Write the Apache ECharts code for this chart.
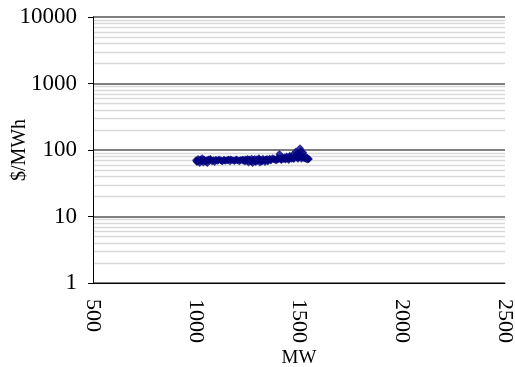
<!DOCTYPE html>
<html><head><meta charset="utf-8">
<script src="https://cdn.jsdelivr.net/npm/echarts@6/dist/echarts.min.js"></script>
<style>html,body{margin:0;padding:0;background:#fff}#c{width:515px;height:367px}</style>
</head><body><div id="c"></div>
<script>
const xTicks = [500, 1000, 1500, 2000, 2500];
const yTicks = [1, 10, 100, 1000, 10000];
const minorLines = [2,3,4,5,6,7,8,9,20,30,40,50,60,70,80,90,200,300,400,500,600,700,800,900,2000,3000,4000,5000,6000,7000,8000,9000];
const mw = [1000,1005,1010,1012,1018,1022,1025,1030,1035,1040,1045,1050,1055,1060,1065,1070,1078,1085,1090,1098,1105,1112,1120,1128,1135,1142,1150,1158,1165,1172,1180,1188,1195,1202,1210,1218,1225,1232,1240,1245,1250,1255,1260,1265,1270,1275,1280,1285,1290,1295,1300,1305,1310,1315,1320,1325,1330,1335,1340,1345,1350,1358,1365,1372,1380,1388,1395,1400,1405,1410,1415,1420,1425,1430,1435,1440,1445,1450,1455,1460,1465,1470,1475,1480,1485,1490,1495,1500,1505,1510,1515,1520,1525,1530,1535,1540,1545,
  1003,1015,1028,1038,1048,1058,1068,1082,1094,1108,1124,1138,1155,1168,1185,1198,1214,1228,1238,1248,1258,1268,1278,1288,1298,1308,1318,1328,1338,1348,1355,1362,1378,1392,1402,1412,1422,1432,1442,1452,1462,1472,1482,1492,1502,1512,1522,1532,1542,1548];
const price = [70,66,73,68,64,72,69,75,65,71,67,70,64,72,69,73,68,70,66,71,69,72,70,68,71,69,70,72,68,71,70,69,72,70,68,71,70,69,72,70,73,65,71,68,74,64,70,73,66,72,69,75,65,71,68,74,70,66,72,73,69,74,71,75,72,70,76,73,87,74,71,77,73,78,72,80,75,71,82,76,74,85,73,79,95,88,74,83,106,96,78,92,75,81,73,76,74,
  68,71,69,72,67,70,72,69,71,70,69,71,70,72,69,71,70,72,67,69,72,67,71,68,70,72,67,70,71,68,72,70,73,71,74,72,75,73,76,74,77,75,80,76,78,74,79,75,72,73];
const pts = mw.map((x,i)=>[x, price[i]]);
const chart = echarts.init(document.getElementById('c'));
const font = "'Liberation Serif', 'Times New Roman', serif";
chart.setOption({
  animation:false,
  grid:{left:93,right:10,top:17,bottom:84,containLabel:false,outerBoundsMode:'none'},
  xAxis:{type:'value',min:xTicks[0],max:xTicks[xTicks.length-1],interval:500,z:10,
    axisLine:{show:true,onZero:false,lineStyle:{color:'#000',width:1}},
    axisTick:{show:false},splitLine:{show:false},
    axisLabel:{rotate:-90,margin:16,fontFamily:font,fontSize:22,color:'#000',formatter:v=>String(v)},
    name:'MW',nameLocation:'middle',nameGap:66,nameMoveOverlap:false,nameTextStyle:{fontFamily:font,fontSize:19,color:'#000'}},
  yAxis:{type:'log',logBase:10,min:yTicks[0],max:yTicks[yTicks.length-1],z:10,
    axisLine:{show:true,lineStyle:{color:'#000',width:1}},
    axisTick:{show:true,length:5,lineStyle:{color:'#000'}},
    splitLine:{show:true,lineStyle:{color:'#808080',width:2}},
    axisLabel:{margin:16,fontFamily:font,fontSize:23,color:'#000',formatter:v=>String(v)},
    name:'$/MWh',nameLocation:'middle',nameGap:63,nameMoveOverlap:false,nameTextStyle:{fontFamily:font,fontSize:20,color:'#000'}},
  series:[
    {type:'line',data:[],silent:true,
      markLine:{silent:true,symbol:'none',label:{show:false},
        lineStyle:{color:'#d9d9d9',width:1.3,type:'solid'},
        data:minorLines.map(v=>({yAxis:v}))}},
    {type:'scatter',data:pts,symbol:'diamond',symbolSize:8,
      itemStyle:{color:'#000080'},z:12}
  ]
});
</script></body></html>
